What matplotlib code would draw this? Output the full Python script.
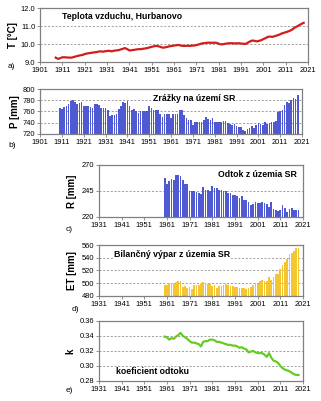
import numpy as np
import matplotlib
matplotlib.use("Agg")
import matplotlib.pyplot as plt

plt.rcParams["font.family"] = ["Liberation Sans", "DejaVu Sans"]

# a) air temperature, Hurbanovo (1908-2019)
temp_start = 1908
temp = [
    9.25, 9.18, 9.22, 9.27, 9.27, 9.26, 9.25, 9.25, 9.28, 9.32,
    9.35, 9.38, 9.40, 9.45, 9.48, 9.50, 9.52, 9.54, 9.55, 9.58,
    9.60, 9.58, 9.60, 9.62, 9.63, 9.60, 9.63, 9.65, 9.66, 9.70,
    9.74, 9.78, 9.72, 9.65, 9.66, 9.68, 9.70, 9.72, 9.72, 9.74,
    9.76, 9.78, 9.82, 9.85, 9.88, 9.90, 9.88, 9.84, 9.80, 9.82,
    9.85, 9.88, 9.90, 9.92, 9.94, 9.95, 9.92, 9.90, 9.90, 9.91,
    9.90, 9.92, 9.92, 9.95, 9.98, 10.02, 10.05, 10.06, 10.08, 10.08,
    10.07, 10.08, 10.07, 10.02, 9.98, 10.00, 10.02, 10.04, 10.05, 10.05,
    10.04, 10.04, 10.05, 10.03, 10.02, 10.01, 10.08, 10.15, 10.20, 10.18,
    10.15, 10.18, 10.22, 10.28, 10.34, 10.40, 10.42, 10.40, 10.44, 10.48,
    10.52, 10.58, 10.62, 10.66, 10.70, 10.75, 10.82, 10.92, 10.98, 11.05,
    11.12, 11.18,
]

# b) precipitation on the territory of SR (1910-2019)
prec_start = 1910
prec = [
    767, 765, 768, 770, 773, 778, 781, 776, 774, 775,
    777, 769, 770, 769, 768, 766, 773, 773, 771, 766,
    766, 767, 762, 752, 754, 754, 756, 764, 770, 776,
    775, 779, 769, 763, 765, 760, 757, 761, 761, 761,
    761, 770, 767, 762, 763, 763, 756, 750, 755, 755,
    755, 749, 755, 755, 756, 763, 763, 753, 749, 744,
    745, 736, 742, 742, 742, 741, 745, 750, 746, 744,
    749, 742, 742, 742, 742, 743, 743, 740, 738, 736,
    737, 734, 732, 733, 727, 726, 728, 731, 735, 731,
    736, 740, 738, 736, 741, 737, 739, 741, 742, 743,
    759, 760, 762, 771, 776, 775, 781, 784, 783, 789,
]

# c) runoff, d) evapotranspiration, e) runoff coefficient (1960-2019)
sr_start = 1960
runoff = [
    257, 252, 254, 256, 255, 260, 260, 259, 255, 252,
    252, 245, 245, 245, 244, 243, 242, 249, 246, 246,
    245, 250, 248, 248, 246, 246, 245, 245, 243, 243,
    241, 241, 240, 238, 240, 236, 236, 234, 231, 232,
    234, 233, 233, 234, 233, 232, 230, 234, 228, 227,
    226, 227, 231, 229, 225, 228, 229, 227, 227, 227,
]
evap = [
    497, 497, 500, 501, 500, 502, 503, 503, 494, 496,
    492, 494, 491, 497, 497, 497, 498, 502, 500, 498,
    498, 496, 497, 493, 496, 496, 497, 498, 497, 495,
    496, 494, 494, 493, 493, 492, 491, 492, 494, 497,
    500, 498, 504, 505, 504, 503, 510, 505, 510, 514,
    515, 523, 528, 533, 538, 546, 547, 550, 556, 556,
]
coef = [
    0.339, 0.338, 0.335, 0.337, 0.336, 0.339, 0.341, 0.344, 0.340, 0.338,
    0.336, 0.333, 0.331, 0.331, 0.330, 0.329, 0.326, 0.332, 0.333, 0.333,
    0.335, 0.335, 0.334, 0.332, 0.332, 0.331, 0.330, 0.329, 0.328, 0.328,
    0.327, 0.327, 0.326, 0.324, 0.325, 0.323, 0.322, 0.318, 0.319, 0.320,
    0.318, 0.317, 0.317, 0.317, 0.315, 0.312, 0.317, 0.311, 0.307, 0.306,
    0.304, 0.300, 0.297, 0.295, 0.294, 0.293, 0.291, 0.289, 0.288, 0.288,
]

TICK_FS = 5.4
LBL_FS = 7
TTL_FS = 6.3
GRID = "#909090"


def style(ax, xlim, ylim, ystep, fmt, gridvals):
    ax.set_xlim(*xlim)
    ax.set_xticks(np.arange(xlim[0], xlim[1] + 1, 10))
    ax.set_ylim(*ylim)
    ax.set_yticks(np.arange(ylim[0], ylim[1] + ystep / 2, ystep))
    ax.yaxis.set_major_formatter(plt.FormatStrFormatter(fmt))
    for v in gridvals:
        ax.axhline(v, color=GRID, lw=0.6, ls=(0, (2.5, 2)), zorder=0.5)
    for s in ax.spines.values():
        s.set_color("#808080")
        s.set_linewidth(0.9)
    ax.tick_params(labelsize=TICK_FS, length=2, width=0.6, color="#808080", pad=1.5)


fig = plt.figure(figsize=(3.21, 4.01), dpi=100)

# a) temperature
ax = fig.add_axes([0.125, 0.845, 0.835, 0.135])
yrs = np.arange(temp_start, temp_start + len(temp))
ax.plot(yrs, temp, color="#d41c1c", lw=1.6, zorder=3)
style(ax, (1901, 2021), (9.0, 12.0), 1.0, "%.1f", [10.0, 11.0])
ax.set_ylabel("T [°C]", fontsize=LBL_FS, fontweight="bold", labelpad=2)
ax.text(0.083, 0.85, "Teplota vzduchu, Hurbanovo", transform=ax.transAxes,
        fontsize=TTL_FS, fontweight="bold", va="center")
fig.text(0.025, 0.833, "a)", fontsize=6, va="center")

# b) precipitation
ax = fig.add_axes([0.125, 0.666, 0.816, 0.112])
yrs = np.arange(prec_start, prec_start + len(prec))
ax.bar(yrs, np.array(prec) - 720, bottom=720, width=0.75, color="#4f5ad2", zorder=2)
style(ax, (1901, 2021), (720, 800), 20, "%d", [740, 760, 780])
ax.set_ylabel("P [mm]", fontsize=LBL_FS, fontweight="bold", labelpad=2)
ax.text(0.43, 0.80, "Zrážky na území SR", transform=ax.transAxes,
        fontsize=TTL_FS, fontweight="bold", va="center", zorder=4,
        bbox=dict(facecolor="white", edgecolor="none", pad=0.5))
fig.text(0.025, 0.637, "b)", fontsize=6, va="center")

sr_yrs = np.arange(sr_start, sr_start + len(runoff))

# c) runoff
ax = fig.add_axes([0.308, 0.459, 0.636, 0.130])
ax.bar(sr_yrs, np.array(runoff) - 220, bottom=220, width=0.75, color="#4f5ad2", zorder=2)
style(ax, (1931, 2021), (220, 270), 25, "%d", [245])
ax.set_ylabel("R [mm]", fontsize=LBL_FS, fontweight="bold", labelpad=3)
ax.text(0.97, 0.82, "Odtok z územia SR", transform=ax.transAxes,
        fontsize=TTL_FS, fontweight="bold", va="center", ha="right")
fig.text(0.203, 0.428, "c)", fontsize=6, va="center")

# d) evapotranspiration
ax = fig.add_axes([0.308, 0.262, 0.636, 0.127])
ax.bar(sr_yrs, np.array(evap) - 480, bottom=480, width=0.75, color="#f2c531", zorder=2)
style(ax, (1931, 2021), (480, 560), 20, "%d", [500, 520, 540])
ax.set_ylabel("ET [mm]", fontsize=LBL_FS, fontweight="bold", labelpad=3)
ax.text(0.075, 0.82, "Bilančný výpar z územia SR", transform=ax.transAxes,
        fontsize=TTL_FS, fontweight="bold", va="center", zorder=4,
        bbox=dict(facecolor="white", edgecolor="none", pad=0.5))
fig.text(0.222, 0.228, "d)", fontsize=6, va="center")

# e) runoff coefficient
ax = fig.add_axes([0.308, 0.050, 0.636, 0.150])
ax.plot(sr_yrs, coef, color="#66cc22", lw=1.6, zorder=3)
style(ax, (1931, 2021), (0.28, 0.36), 0.02, "%.2f", [0.30, 0.32, 0.34])
ax.set_ylabel("k", fontsize=LBL_FS, fontweight="bold", labelpad=3)
ax.text(0.085, 0.16, "koeficient odtoku", transform=ax.transAxes,
        fontsize=TTL_FS, fontweight="bold", va="center")
fig.text(0.205, 0.026, "e)", fontsize=6, va="center")

fig.savefig("out.png", dpi=100)
